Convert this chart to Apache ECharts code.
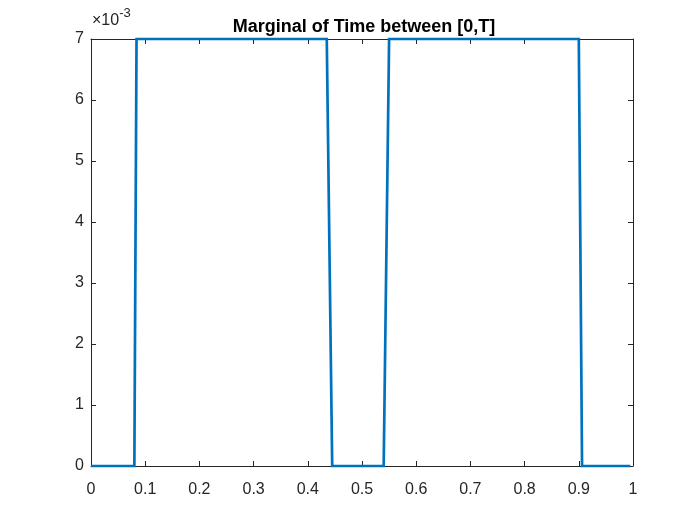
<!DOCTYPE html>
<html>
<head>
    <meta charset="utf-8">
    <title>Marginal of Time</title>
    <script src="https://cdn.jsdelivr.net/npm/echarts@6/dist/echarts.min.js"></script>
</head>
<body style="margin:0;background:#fff;">
    <div id="main" style="width:700px;height:525px;"></div>
    <script type="text/javascript">
        // step edges of the marginal (x in [0,1], y in units of 1e-3)
        var timeX = [0, 0.08, 0.084, 0.435, 0.445, 0.54, 0.55, 0.9, 0.906, 0.995];
        var densY = [0, 0, 7, 7, 0, 0, 7, 7, 0, 0];
        var xTicks = [0, 0.1, 0.2, 0.3, 0.4, 0.5, 0.6, 0.7, 0.8, 0.9, 1];
        var yTicks = [0, 1, 2, 3, 4, 5, 6, 7];

        var points = [];
        for (var i = 0; i < timeX.length; i++) {
            points.push([timeX[i], densY[i]]);
        }

        var axisCol = '#262626';
        var fnt = 'Liberation Sans, Arial, sans-serif';

        function fmtX(v) {
            if (v === 0 || v === 1) return String(v);
            return v.toFixed(1);
        }

        var myChart = echarts.init(document.getElementById('main'));
        var option = {
            animation: false,
            backgroundColor: '#fff',
            title: {
                text: 'Marginal of Time between [0,T]',
                left: 359,
                top: 13,
                textAlign: 'center',
                textStyle: { fontFamily: fnt, fontSize: 18, fontWeight: 'bold', color: '#000' }
            },
            graphic: [{
                type: 'text',
                left: 92,
                top: 7,
                style: {
                    text: '{a|×10}{b|-3}',
                    rich: {
                        a: { fontFamily: fnt, fontSize: 16, fill: axisCol, verticalAlign: 'bottom' },
                        b: { fontFamily: fnt, fontSize: 13, fill: axisCol, padding: [0, 0, 9, 0] }
                    }
                }
            }],
            grid: { left: 91, right: 67, top: 39, bottom: 59, containLabel: false },
            xAxis: [{
                type: 'value',
                min: 0, max: 1, interval: 0.1,
                axisLine: { show: true, onZero: false, lineStyle: { color: axisCol, width: 1 } },
                axisTick: { inside: true, length: 5, lineStyle: { color: axisCol } },
                axisLabel: { color: axisCol, fontFamily: fnt, fontSize: 16, margin: 16, formatter: fmtX },
                splitLine: { show: false }
            }, {
                type: 'value', position: 'top',
                min: 0, max: 1, interval: 0.1,
                axisLine: { show: true, onZero: false, lineStyle: { color: axisCol, width: 1 } },
                axisTick: { inside: true, length: 5, lineStyle: { color: axisCol } },
                axisLabel: { show: false },
                splitLine: { show: false }
            }],
            yAxis: [{
                type: 'value',
                min: yTicks[0], max: yTicks[yTicks.length - 1], interval: 1,
                axisLine: { show: true, onZero: false, lineStyle: { color: axisCol, width: 1 } },
                axisTick: { inside: true, length: 5, lineStyle: { color: axisCol } },
                axisLabel: { color: axisCol, fontFamily: fnt, fontSize: 16, margin: 7 },
                splitLine: { show: false }
            }, {
                type: 'value', position: 'right',
                min: yTicks[0], max: yTicks[yTicks.length - 1], interval: 1,
                axisLine: { show: true, onZero: false, lineStyle: { color: axisCol, width: 1 } },
                axisTick: { inside: true, length: 5, lineStyle: { color: axisCol } },
                axisLabel: { show: false },
                splitLine: { show: false }
            }],
            series: [{
                type: 'line',
                data: points,
                showSymbol: false,
                symbol: 'none',
                clip: false,
                lineStyle: { color: '#0072BD', width: 2.7, join: 'miter' }
            }]
        };
        myChart.setOption(option);
    </script>
</body>
</html>
